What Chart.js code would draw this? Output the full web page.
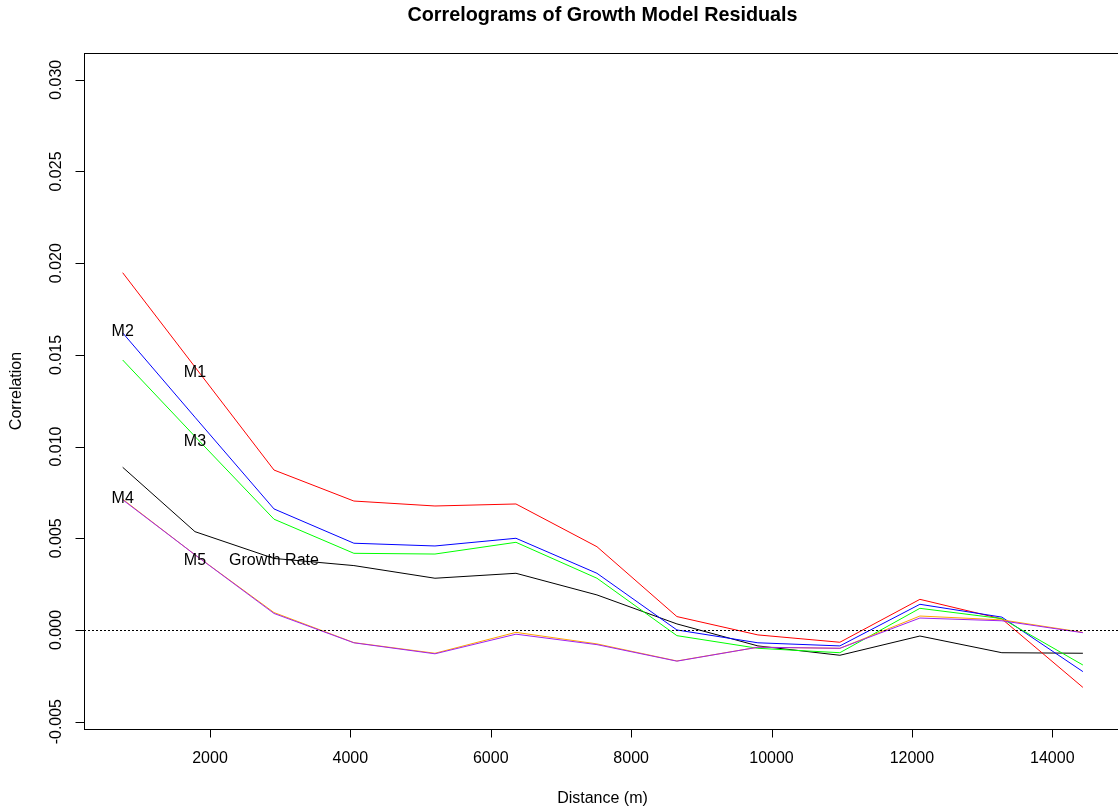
<!DOCTYPE html>
<html>
<head>
<meta charset="utf-8">
<title>Correlograms of Growth Model Residuals</title>
<script src="https://cdn.jsdelivr.net/npm/chart.js@4/dist/chart.umd.min.js"></script>
<style>
  html, body { margin: 0; padding: 0; background: #ffffff; overflow: hidden; }
  canvas { display: block; }
</style>
</head>
<body>
<canvas id="chart" width="1130" height="811"></canvas>
<script>
// Mean distance of each lag class (m)
const distance = [756, 1786, 2912, 4050, 5205, 6359, 7513, 8652, 9806, 10974, 12114, 13282, 14436];

// Moran-type correlation of residuals per model
const growthRate = [0.00887, 0.00536, 0.00390, 0.00351, 0.00282, 0.00309, 0.00191, 0.00033, -0.00087, -0.00138, -0.00033, -0.00124, -0.00127];
const m1 = [0.01948, 0.01434, 0.00872, 0.00703, 0.00676, 0.00687, 0.00454, 0.00073, -0.00027, -0.00067, 0.00167, 0.00060, -0.00313];
const m2 = [0.01620, 0.01160, 0.00660, 0.00473, 0.00458, 0.00500, 0.00309, 0.00000, -0.00070, -0.00087, 0.00140, 0.00070, -0.00227];
const m3 = [0.01472, 0.01055, 0.00604, 0.00418, 0.00414, 0.00478, 0.00282, -0.00031, -0.00100, -0.00124, 0.00118, 0.00062, -0.00191];
const m4 = [0.00713, 0.00410, 0.00095, -0.00069, -0.00127, -0.00013, -0.00076, -0.00169, -0.00094, -0.00100, 0.00076, 0.00055, -0.00013];
const m5 = [0.00710, 0.00410, 0.00090, -0.00070, -0.00130, -0.00023, -0.00080, -0.00170, -0.00094, -0.00100, 0.00065, 0.00050, -0.00015];

// Text labels placed next to the curves
const labelText = ['M2', 'M1', 'M3', 'M4', 'M5', 'Growth Rate'];
const labelX = [756, 1786, 1786, 756, 1786, 2912];
const labelY = [0.01628, 0.01401, 0.01025, 0.00714, 0.00376, 0.00376];

// Axis ticks
const xTicks = [2000, 4000, 6000, 8000, 10000, 12000, 14000];
const yTicks = [-0.005, 0.000, 0.005, 0.010, 0.015, 0.020, 0.025, 0.030];
const yTickLabels = ['-0.005', '0.000', '0.005', '0.010', '0.015', '0.020', '0.025', '0.030'];

const series = [
  { name: 'Growth Rate', values: growthRate, color: '#000000' },
  { name: 'M1', values: m1, color: '#FF0000' },
  { name: 'M2', values: m2, color: '#0000FF' },
  { name: 'M3', values: m3, color: '#00FF00' },
  { name: 'M4', values: m4, color: '#FFA500' },
  { name: 'M5', values: m5, color: '#A020F0' }
];

const FONT = '"Liberation Sans", Arial, Helvetica, sans-serif';

// Base-graphics style frame, axes, reference line and annotations
const basePlot = {
  id: 'basePlot',
  afterDatasetsDraw(chart) {
    const ctx = chart.ctx;
    const xs = chart.scales.x;
    const ys = chart.scales.y;
    const area = chart.chartArea;
    ctx.save();

    // horizontal reference at zero
    const y0 = Math.round(ys.getPixelForValue(0)) + 0.5;
    ctx.strokeStyle = '#000000';
    ctx.lineWidth = 1;
    ctx.setLineDash([2, 2]);
    ctx.beginPath();
    ctx.moveTo(area.left, y0);
    ctx.lineTo(area.right, y0);
    ctx.stroke();
    ctx.setLineDash([]);

    // curve labels
    ctx.fillStyle = '#000000';
    ctx.font = '16px ' + FONT;
    ctx.textAlign = 'center';
    ctx.textBaseline = 'middle';
    labelText.forEach((t, i) => {
      ctx.fillText(t, xs.getPixelForValue(labelX[i]), ys.getPixelForValue(labelY[i]));
    });

    // plot frame
    ctx.strokeStyle = '#000000';
    ctx.lineWidth = 1;
    ctx.strokeRect(Math.round(area.left) + 0.5, Math.round(area.top) + 0.5,
                   Math.round(area.right - area.left), Math.round(area.bottom - area.top));

    // x axis ticks and labels
    const bottom = Math.round(area.bottom) + 0.5;
    ctx.beginPath();
    xTicks.forEach(v => {
      const px = Math.round(xs.getPixelForValue(v)) + 0.5;
      ctx.moveTo(px, bottom);
      ctx.lineTo(px, bottom + 8);
    });
    ctx.stroke();
    ctx.textBaseline = 'middle';
    ctx.textAlign = 'center';
    xTicks.forEach(v => {
      ctx.fillText(String(v), xs.getPixelForValue(v), area.bottom + 30);
    });

    // y axis ticks and labels (rotated, base-graphics style)
    const left = Math.round(area.left) + 0.5;
    ctx.beginPath();
    yTicks.forEach(v => {
      const py = Math.round(ys.getPixelForValue(v)) + 0.5;
      ctx.moveTo(left, py);
      ctx.lineTo(left - 9, py);
    });
    ctx.stroke();
    yTicks.forEach((v, i) => {
      ctx.save();
      ctx.translate(area.left - 27, ys.getPixelForValue(v));
      ctx.rotate(-Math.PI / 2);
      ctx.fillText(yTickLabels[i], 0, 0);
      ctx.restore();
    });

    // axis titles
    const midX = (area.left + area.right) / 2;
    const midY = (area.top + area.bottom) / 2;
    ctx.fillText('Distance (m)', midX, area.bottom + 70);
    ctx.save();
    ctx.translate(17, midY);
    ctx.rotate(-Math.PI / 2);
    ctx.fillText('Correlation', 0, 0);
    ctx.restore();

    // main title
    ctx.font = 'bold 19.8px ' + FONT;
    ctx.fillText('Correlograms of Growth Model Residuals', midX, 16);

    ctx.restore();
  }
};

new Chart(document.getElementById('chart'), {
  type: 'line',
  data: {
    datasets: series.map(s => ({
      label: s.name,
      data: distance.map((d, i) => ({ x: d, y: s.values[i] })),
      borderColor: s.color,
      backgroundColor: s.color,
      borderWidth: 1,
      pointRadius: 0,
      fill: false,
      tension: 0
    })).reverse()
  },
  options: {
    responsive: false,
    animation: false,
    devicePixelRatio: 1,
    events: [],
    layout: { padding: { left: 84, top: 53, right: 9, bottom: 82 } },
    scales: {
      x: { type: 'linear', display: false, min: 205, max: 14979 },
      y: { type: 'linear', display: false, min: -0.0054, max: 0.03146 }
    },
    plugins: {
      legend: { display: false },
      tooltip: { enabled: false },
      title: { display: false }
    }
  },
  plugins: [basePlot]
});
</script>
</body>
</html>
